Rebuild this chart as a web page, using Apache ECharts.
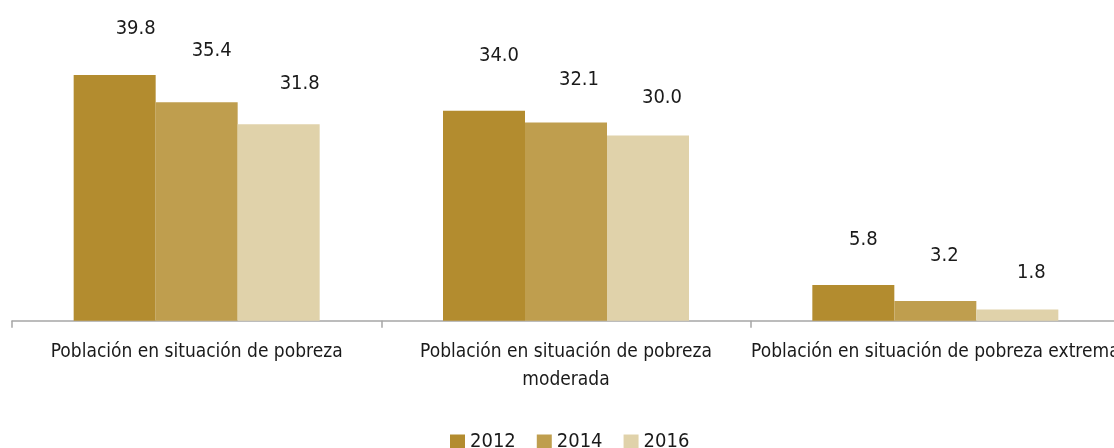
<!DOCTYPE html>
<html>
<head>
<meta charset="utf-8">
<script src="https://cdn.jsdelivr.net/npm/echarts@6/dist/echarts.min.js"></script>
<style>
    html, body { margin: 0; padding: 0; background: #fff; }
    #chart { width: 1114px; height: 448px; }
</style>
</head>
<body>
<div id="chart"></div>
<script>
// datos
const categories = [
    'Población en situación de pobreza',
    'Población en situación de pobreza\nmoderada',
    'Población en situación de pobreza extrema'
];
const years = ['2012', '2014', '2016'];
const v2012 = [39.8, 34.0, 5.8];
const v2014 = [35.4, 32.1, 3.2];
const v2016 = [31.8, 30.0, 1.8];

// desplazamiento de etiquetas [dx, distancia sobre la barra]
const shift2012 = [[21, 46], [15, 55], [10, 45]];
const shift2014 = [[15, 51], [13, 43], [9, 45]];
const shift2016 = [[21, 41], [14, 38], [14, 37]];

const colors = ['#B38C2F', '#BF9E4E', '#E0D2AA'];
const font = '"Liberation Sans Narrow", "DejaVu Sans Condensed", sans-serif';

const mkSeries = (name, vals, shifts, color) => ({
    name: name,
    type: 'bar',
    barWidth: 82,
    barGap: '0%',
    itemStyle: { color: color },
    label: {
        show: true,
        position: 'top',
        distance: 0,
        color: '#1a1a1a',
        fontFamily: font,
        fontSize: 20,
        lineHeight: 20,
        formatter: p => p.value.toFixed(1)
    },
    data: vals.map((v, i) => ({
        value: v,
        label: { offset: [shifts[i][0], -(shifts[i][1] - 10)] }
    }))
});

const chart = echarts.init(document.getElementById('chart'));
chart.setOption({
    animation: false,
    grid: { left: 12, width: 1108, top: 12, height: 308.7, outerBoundsMode: 'none', containLabel: false },
    legend: {
        data: years,
        left: 445,
        top: 427,
        icon: 'rect',
        itemWidth: 15,
        itemHeight: 15,
        itemGap: 21,
        textStyle: { fontFamily: font, fontSize: 20, color: '#1a1a1a', lineHeight: 18 }
    },
    xAxis: {
        type: 'category',
        data: categories,
        axisLine: { lineStyle: { color: '#A6A6A6', width: 1.5 } },
        axisTick: { show: true, length: 7, lineStyle: { color: '#A6A6A6', width: 1.5 } },
        axisLabel: {
            interval: 0,
            margin: 17,
            color: '#1a1a1a',
            fontFamily: font,
            fontSize: 19,
            lineHeight: 28,
            hideOverlap: false
        }
    },
    yAxis: { type: 'value', min: 0, max: 50, show: false },
    series: [
        mkSeries(years[0], v2012, shift2012, colors[0]),
        mkSeries(years[1], v2014, shift2014, colors[1]),
        mkSeries(years[2], v2016, shift2016, colors[2])
    ]
});
</script>
</body>
</html>
